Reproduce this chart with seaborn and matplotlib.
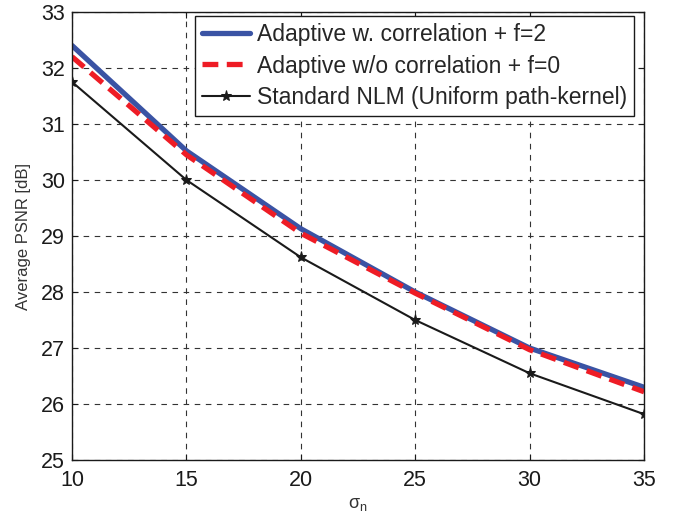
import pandas as pd
import matplotlib
matplotlib.use("Agg")
import matplotlib.pyplot as plt
import seaborn as sns

# sigma_n values and average PSNR
sigma = [10, 15, 20, 25, 30, 35]
psnr_corr = [32.4, 30.52, 29.13, 28.0, 27.0, 26.3]
psnr_nocorr = [32.2, 30.45, 29.05, 27.98, 26.97, 26.22]
psnr_nlm = [31.75, 30.0, 28.62, 27.5, 26.55, 25.82]

labels = ['Adaptive w. correlation + f=2',
          'Adaptive w/o correlation + f=0',
          'Standard NLM (Uniform path-kernel)']

sns.set_style('ticks')
plt.rcParams['font.family'] = ['Liberation Sans', 'DejaVu Sans']

fig = plt.figure(figsize=(6.73, 5.17), dpi=100)
ax = fig.add_axes([0.107, 0.110, 0.850, 0.867])

sns.lineplot(x=sigma, y=psnr_corr, ax=ax, color='#3a53a4', lw=3.8,
             label=labels[0])
sns.lineplot(x=sigma, y=psnr_nocorr, ax=ax, color='#ee1c25', lw=3.8,
             dashes=False, label=labels[1])
ax.lines[-1].set_linestyle((0, (3, 1.6)))
sns.lineplot(x=sigma, y=psnr_nlm, ax=ax, color='#1a1a1a', lw=1.5,
             marker='*', markersize=8, markeredgecolor='#1a1a1a',
             label=labels[2])

ax.set_xlim(10, 35)
ax.set_ylim(25, 33)
ax.set_xticks(sigma)
ax.set_yticks(range(25, 34))
ax.grid(True, color='#333333', linestyle=(0, (5, 5)), linewidth=0.8)
ax.tick_params(direction='in', labelsize=15.5, length=4, colors='#1a1a1a',
               top=True, right=True)
ax.tick_params(axis='x', pad=7)
ax.tick_params(axis='y', pad=5)
for s in ax.spines.values():
    s.set_color('#1a1a1a')
    s.set_linewidth(1.0)

ax.set_xlabel(r'σ$_\mathregular{n}$', fontsize=13, color='#333333', labelpad=4)
ax.set_ylabel('Average PSNR [dB]', fontsize=12, color='#333333', labelpad=7)

leg = ax.legend(loc='upper right', bbox_to_anchor=(0.983, 0.991),
                fontsize=16.5, frameon=True, fancybox=False,
                edgecolor='#1a1a1a', framealpha=1, borderpad=0.3,
                labelspacing=0.38, handlelength=2.1, handletextpad=0.3,
                borderaxespad=0)
leg.get_frame().set_linewidth(1.0)

fig.savefig('out.png', dpi=100)
